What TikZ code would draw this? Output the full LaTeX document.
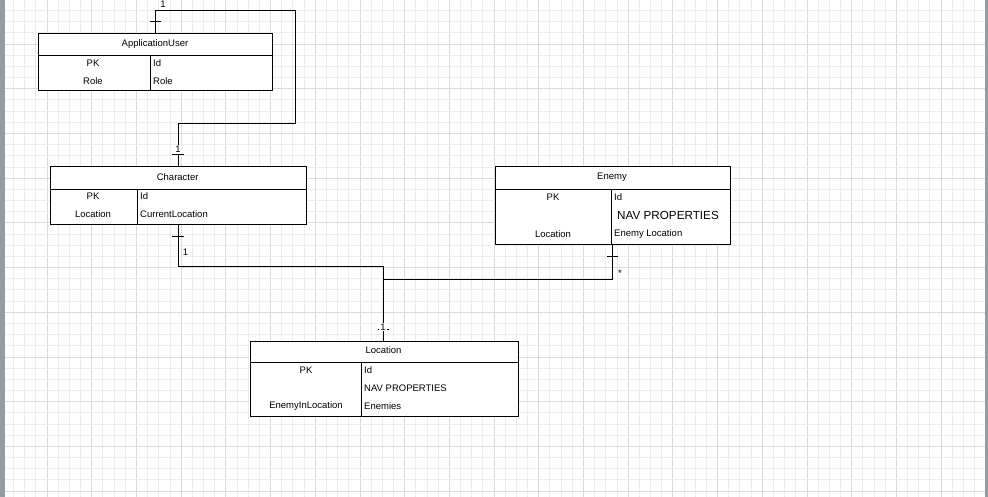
\documentclass[tikz,border=0pt]{standalone}
\usepackage{fontspec}
\setmainfont{Liberation Sans}
\definecolor{edgegray}{RGB}{150,154,162}
\begin{document}
\begin{tikzpicture}[x=1pt,y=-1pt,
  minorline/.style={draw=black!7,line width=0.8pt},
  majorline/.style={draw=black!14,line width=0.8pt},
  tbl/.style={draw=black,line width=0.95pt,fill=white,inner sep=0pt,anchor=north west},
  sep/.style={draw=black,line width=0.95pt},
  conn/.style={draw=black,line width=0.95pt},
  txt/.style={font=\fontsize{9.5}{10}\selectfont,inner sep=0pt},
  ltxt/.style={txt,anchor=west},
  big/.style={font=\fontsize{11.7}{12}\selectfont,inner sep=0pt,anchor=west},
  lbl/.style={font=\fontsize{9.5}{10}\selectfont,inner sep=0.6pt},
  boxlbl/.style={lbl,fill=white,inner xsep=1.6pt,inner ysep=0.8pt}
]
\useasboundingbox (0,0) rectangle (988,497);
\fill[white] (0,0) rectangle (988,497);
% grid
\foreach \i in {0,...,88}{
  \pgfmathsetmacro{\xx}{2.3+\i*11.175}
  \pgfmathtruncatemacro{\m}{mod(\i,4)}
  \ifnum\m=0 \draw[majorline] (\xx,0) -- (\xx,497);
  \else \draw[minorline] (\xx,0) -- (\xx,497); \fi
}
\foreach \j in {0,...,45}{
  \pgfmathsetmacro{\yy}{-0.7+\j*11.175}
  \pgfmathtruncatemacro{\m}{mod(\j,4)}
  \ifnum\m=0 \draw[majorline] (0,\yy) -- (988,\yy);
  \else \draw[minorline] (0,\yy) -- (988,\yy); \fi
}
\fill[edgegray] (0,0) rectangle (5,497);
\fill[edgegray] (985,0) rectangle (988,497);

% ApplicationUser
\node[tbl,minimum width=234pt,minimum height=57.5pt] (au) at (38,33) {};
\draw[sep] (38,55) -- (272,55);
\draw[sep] (150,55) -- (150,90.5);
\node[txt] (aut) at (155,44) {ApplicationUser};
\node[txt] (aupk) at (93,63) {PK};
\node[txt] (aur) at (93,81) {Role};
\node[ltxt] (auid) at (153,63) {Id};
\node[ltxt] (aur2) at (153,81) {Role};

% Character
\node[tbl,minimum width=256.5pt,minimum height=58pt] (ch) at (49.5,166.5) {};
\draw[sep] (49.5,189) -- (306,189);
\draw[sep] (137.5,189) -- (137.5,224.5);
\node[txt] (cht) at (177.7,177) {Character};
\node[txt] (chpk) at (93,196) {PK};
\node[txt] (chl) at (93,214) {Location};
\node[ltxt] (chid) at (140,196) {Id};
\node[ltxt] (chcl) at (140,214) {CurrentLocation};

% Enemy
\node[tbl,minimum width=234.5pt,minimum height=78pt] (en) at (495,166) {};
\draw[sep] (495,189) -- (729.5,189);
\draw[sep] (611,189) -- (611,244);
\node[txt] (ent) at (612,177) {Enemy};
\node[txt] (enpk) at (553,197) {PK};
\node[txt] (enl) at (553,234) {Location};
\node[ltxt] (enid) at (614,197) {Id};
\node[big] (ennav) at (617,215) {NAV PROPERTIES};
\node[ltxt] (enel) at (614,234) {Enemy Location};

% Location
\node[tbl,minimum width=267.5pt,minimum height=75.5pt] (lo) at (250,340.5) {};
\draw[sep] (250,362.5) -- (517.5,362.5);
\draw[sep] (361.5,362.5) -- (361.5,416);
\node[txt] (lot) at (383.5,350) {Location};
\node[txt] (lopk) at (306,370) {PK};
\node[txt] (loeil) at (306,406) {EnemyInLocation};
\node[ltxt] (loid) at (364,370) {Id};
\node[ltxt] (lonav) at (364,388) {NAV PROPERTIES};
\node[ltxt] (loen) at (364,406) {Enemies};

% connector ApplicationUser - Character
\coordinate (a1) at (155,33);
\coordinate (a2) at (155,10);
\coordinate (a3) at (295,10);
\coordinate (a4) at (295,123);
\coordinate (a5) at (178,123);
\coordinate (a6) at (178,166.5);
\draw[conn] (a1) -- (a2) -- (a3) -- (a4) -- (a5) -- (a6);
\draw[conn] (150,21) -- (161,21);
\node[lbl] (l1) at (163,4.6) {1};
\draw[conn] (172,154.5) -- (183.5,154.5);
\node[boxlbl] (l2) at (178,149.5) {1};

% connector Character - Location
\coordinate (b1) at (178,224.5);
\coordinate (b2) at (178,266);
\coordinate (b3) at (383,266);
\coordinate (b4) at (383,340.5);
\draw[conn] (b1) -- (b2) -- (b3) -- (b4);
\draw[conn] (172,236) -- (183.5,236);
\node[lbl] (l3) at (185.5,252.5) {1};
\draw[conn] (377.5,329.5) -- (389,329.5);
\node[boxlbl] (l4) at (383,327) {1};

% connector Enemy - Location
\coordinate (c1) at (612,244);
\coordinate (c2) at (612,279);
\coordinate (c3) at (383,279);
\draw[conn] (c1) -- (c2) -- (c3);
\draw[conn] (606.5,256) -- (618,256);
\node[lbl] (l5) at (620,273) {*};
\end{tikzpicture}
\end{document}
